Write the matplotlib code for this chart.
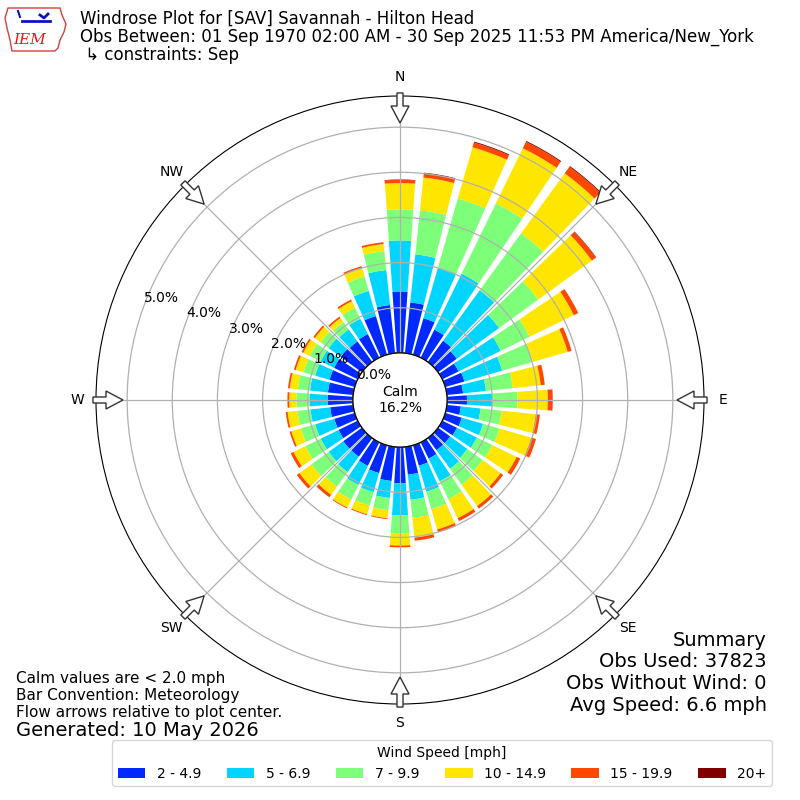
import numpy as np
import matplotlib
matplotlib.use("Agg")
import matplotlib.pyplot as plt
from matplotlib.patches import Circle, Polygon, FancyArrow
from matplotlib.transforms import offset_copy

# ------------------------------
# Data (percent of all obs)
# ------------------------------
directions = np.arange(0, 360, 10)

speed_labels = ["2 - 4.9", "5 - 6.9", "7 - 9.9", "10 - 14.9", "15 - 19.9", "20+"]

spd_2_5 = [1.36, 1.13, 0.84, 0.69, 0.58, 0.51, 0.40, 0.44, 0.36, 0.44,
           0.31, 0.38, 0.36, 0.33, 0.33, 0.40, 0.47, 0.62, 0.80,
           0.76, 0.64, 0.58, 0.51, 0.51, 0.47, 0.47, 0.51, 0.56,
           0.56, 0.58, 0.58, 0.58, 0.56, 0.58, 0.89, 1.07]
spd_5_7 = [1.13, 1.07, 1.16, 1.38, 1.38, 1.16, 1.04, 0.87, 0.51, 0.56,
           0.44, 0.49, 0.49, 0.47, 0.51, 0.56, 0.60, 0.56, 0.71,
           0.38, 0.44, 0.47, 0.42, 0.40, 0.44, 0.44, 0.44, 0.40,
           0.40, 0.33, 0.33, 0.33, 0.33, 0.38, 0.58, 0.78]
spd_7_10 = [0.69, 0.98, 1.60, 1.73, 1.56, 1.07, 0.71, 0.71, 0.60, 0.56,
            0.47, 0.38, 0.38, 0.42, 0.44, 0.44, 0.40, 0.40, 0.40,
            0.27, 0.31, 0.36, 0.40, 0.47, 0.38, 0.33, 0.29, 0.29,
            0.27, 0.27, 0.27, 0.22, 0.20, 0.27, 0.33, 0.42]
spd_10_15 = [0.58, 0.73, 1.18, 1.36, 1.64, 1.47, 1.09, 0.80, 0.62, 0.67,
             0.76, 0.73, 0.60, 0.49, 0.58, 0.47, 0.47, 0.44, 0.27,
             0.18, 0.20, 0.20, 0.22, 0.33, 0.29, 0.22, 0.22, 0.16,
             0.18, 0.18, 0.16, 0.16, 0.11, 0.16, 0.20, 0.16]
spd_15_20 = [0.07, 0.09, 0.11, 0.16, 0.18, 0.11, 0.11, 0.09, 0.09, 0.11,
             0.09, 0.11, 0.09, 0.07, 0.07, 0.07, 0.07, 0.07, 0.04,
             0.02, 0.02, 0.02, 0.07, 0.07, 0.07, 0.04, 0.04, 0.04,
             0.04, 0.04, 0.04, 0.04, 0.04, 0.04, 0.04, 0.04]
spd_20p = [0.01, 0.02, 0.02, 0.02, 0.02, 0.01, 0.0, 0.0, 0.0, 0.0,
           0.0, 0.0, 0.0, 0.0, 0.0, 0.0, 0.0, 0.0, 0.0,
           0.0, 0.0, 0.0, 0.0, 0.0, 0.0, 0.0, 0.0, 0.0,
           0.0, 0.0, 0.0, 0.0, 0.0, 0.0, 0.0, 0.0]

calm_pct = 16.2
obs_used = 37823
obs_nowind = 0
avg_speed = 6.6

compass = ["N", "NE", "E", "SE", "S", "SW", "W", "NW"]
ring_ticks = [0, 1, 2, 3, 4, 5]

# ------------------------------
# Figure
# ------------------------------
fig = plt.figure(figsize=(8, 8), dpi=100)

r_max = 5.69
r_hole = 1.044
ax = fig.add_axes([96 / 800, 96 / 800, 608 / 800, 608 / 800], projection="polar")
ax.set_theta_zero_location("N")
ax.set_theta_direction(-1)
ax.set_rorigin(-r_hole)
ax.set_ylim(0, r_max)

colors = plt.get_cmap("jet")(np.linspace(0, 1, 7))[1:]
series = [spd_2_5, spd_5_7, spd_7_10, spd_10_15, spd_15_20, spd_20p]

theta = np.deg2rad(directions)
bottom = np.zeros(len(directions))
handles = []
for vals, col, lab in zip(series, colors, speed_labels):
    vals = np.asarray(vals)
    b = ax.bar(theta, vals, width=np.deg2rad(8), bottom=bottom,
               color=col, edgecolor="none", label=lab, zorder=1)
    handles.append(b)
    bottom = bottom + vals

ax.set_axisbelow(False)
ax.grid(True, color="#b0b0b0", linewidth=0.9)
ax.set_xticks(np.deg2rad(np.arange(0, 360, 45)))
ax.set_xticklabels(compass, fontsize=10)
ax.tick_params(axis="x", pad=3)
ax.set_yticks(ring_ticks)
ax.set_yticklabels([])

# ring labels
lab_tr = offset_copy(ax.transData, fig=fig, x=18, y=9, units="dots")
for k in ring_ticks:
    ax.text(np.deg2rad(290), k, f"{k:.1f}%", transform=lab_tr,
            ha="center", va="center", fontsize=10, zorder=6)

# calm circle
hole_frac = 0.5 * r_hole / (r_max + r_hole)
ax.add_artist(Circle((0.5, 0.5), hole_frac, transform=ax.transAxes,
                     facecolor="white", edgecolor="black", linewidth=1,
                     zorder=4, clip_on=False))
ax.text(0.5, 0.5, f"Calm\n{calm_pct:.1f}%", transform=ax.transAxes,
        ha="center", va="center", fontsize=10, zorder=5)

# ------------------------------
# Overlay: flow arrows, logo
# ------------------------------
ov = fig.add_axes([0, 0, 1, 1], zorder=10)
ov.set_xlim(0, 800)
ov.set_ylim(0, 800)
ov.axis("off")
cx, cy = 400, 400
for ang in np.arange(0, 360, 45):
    a = np.deg2rad(ang)
    sx, sy = np.sin(a), np.cos(a)
    r0, r1 = 307, 277
    ov.add_patch(FancyArrow(cx + r0 * sx, cy + r0 * sy,
                            (r1 - r0) * sx, (r1 - r0) * sy,
                            width=6, head_width=18, head_length=17,
                            length_includes_head=True,
                            facecolor="white", edgecolor="#333333",
                            linewidth=1))

# rough IEM logo
iowa = [(8, 792), (60, 792), (62, 785), (66, 776), (64, 768), (60, 760),
        (58, 752), (55, 749), (12, 749), (10, 760), (7, 772), (5, 782)]
ov.add_patch(Polygon(iowa, closed=True, facecolor="white",
                     edgecolor="#d04040", linewidth=1))
ov.plot([22, 50], [779, 779], color="#1010c0", lw=2)
ov.plot([40, 44, 48], [785, 782, 786], color="#1010c0", lw=2)
ov.plot([18, 20], [789, 783], color="#1010c0", lw=1.5)
ov.text(30, 760, "IEM", color="#d02020", fontsize=11, style="italic",
        family="DejaVu Serif", ha="center", va="center")

# ------------------------------
# Texts
# ------------------------------
title_lines = ["Windrose Plot for [SAV] Savannah - Hilton Head",
               "Obs Between: 01 Sep 1970 02:00 AM - 30 Sep 2025 11:53 PM America/New_York",
               " \u21b3 constraints: Sep"]
for i, line in enumerate(title_lines):
    fig.text(80 / 800, 1 - (19 + 18 * i) / 800, line,
             ha="left", va="center", fontsize=12)

note_lines = ["Calm values are < 2.0 mph", "Bar Convention: Meteorology",
              "Flow arrows relative to plot center."]
for i, line in enumerate(note_lines):
    fig.text(16 / 800, 1 - (679 + 16.5 * i) / 800, line,
             ha="left", va="center", fontsize=11)
fig.text(16 / 800, 1 - 730 / 800, "Generated: 10 May 2026",
         ha="left", va="center", fontsize=14)

summary_lines = ["Summary", f"Obs Used: {obs_used}",
                 f"Obs Without Wind: {obs_nowind}",
                 f"Avg Speed: {avg_speed} mph"]
for i, line in enumerate(summary_lines):
    fig.text(767 / 800, 1 - (640 + 21.7 * i) / 800, line,
             ha="right", va="center", fontsize=14)

leg = fig.legend(handles=handles, loc="lower center",
                 bbox_to_anchor=(442 / 800, 7 / 800), ncol=6,
                 title="Wind Speed [mph]", fontsize=10, title_fontsize=10,
                 columnspacing=1.85)

fig.savefig("out.png", dpi=100)
